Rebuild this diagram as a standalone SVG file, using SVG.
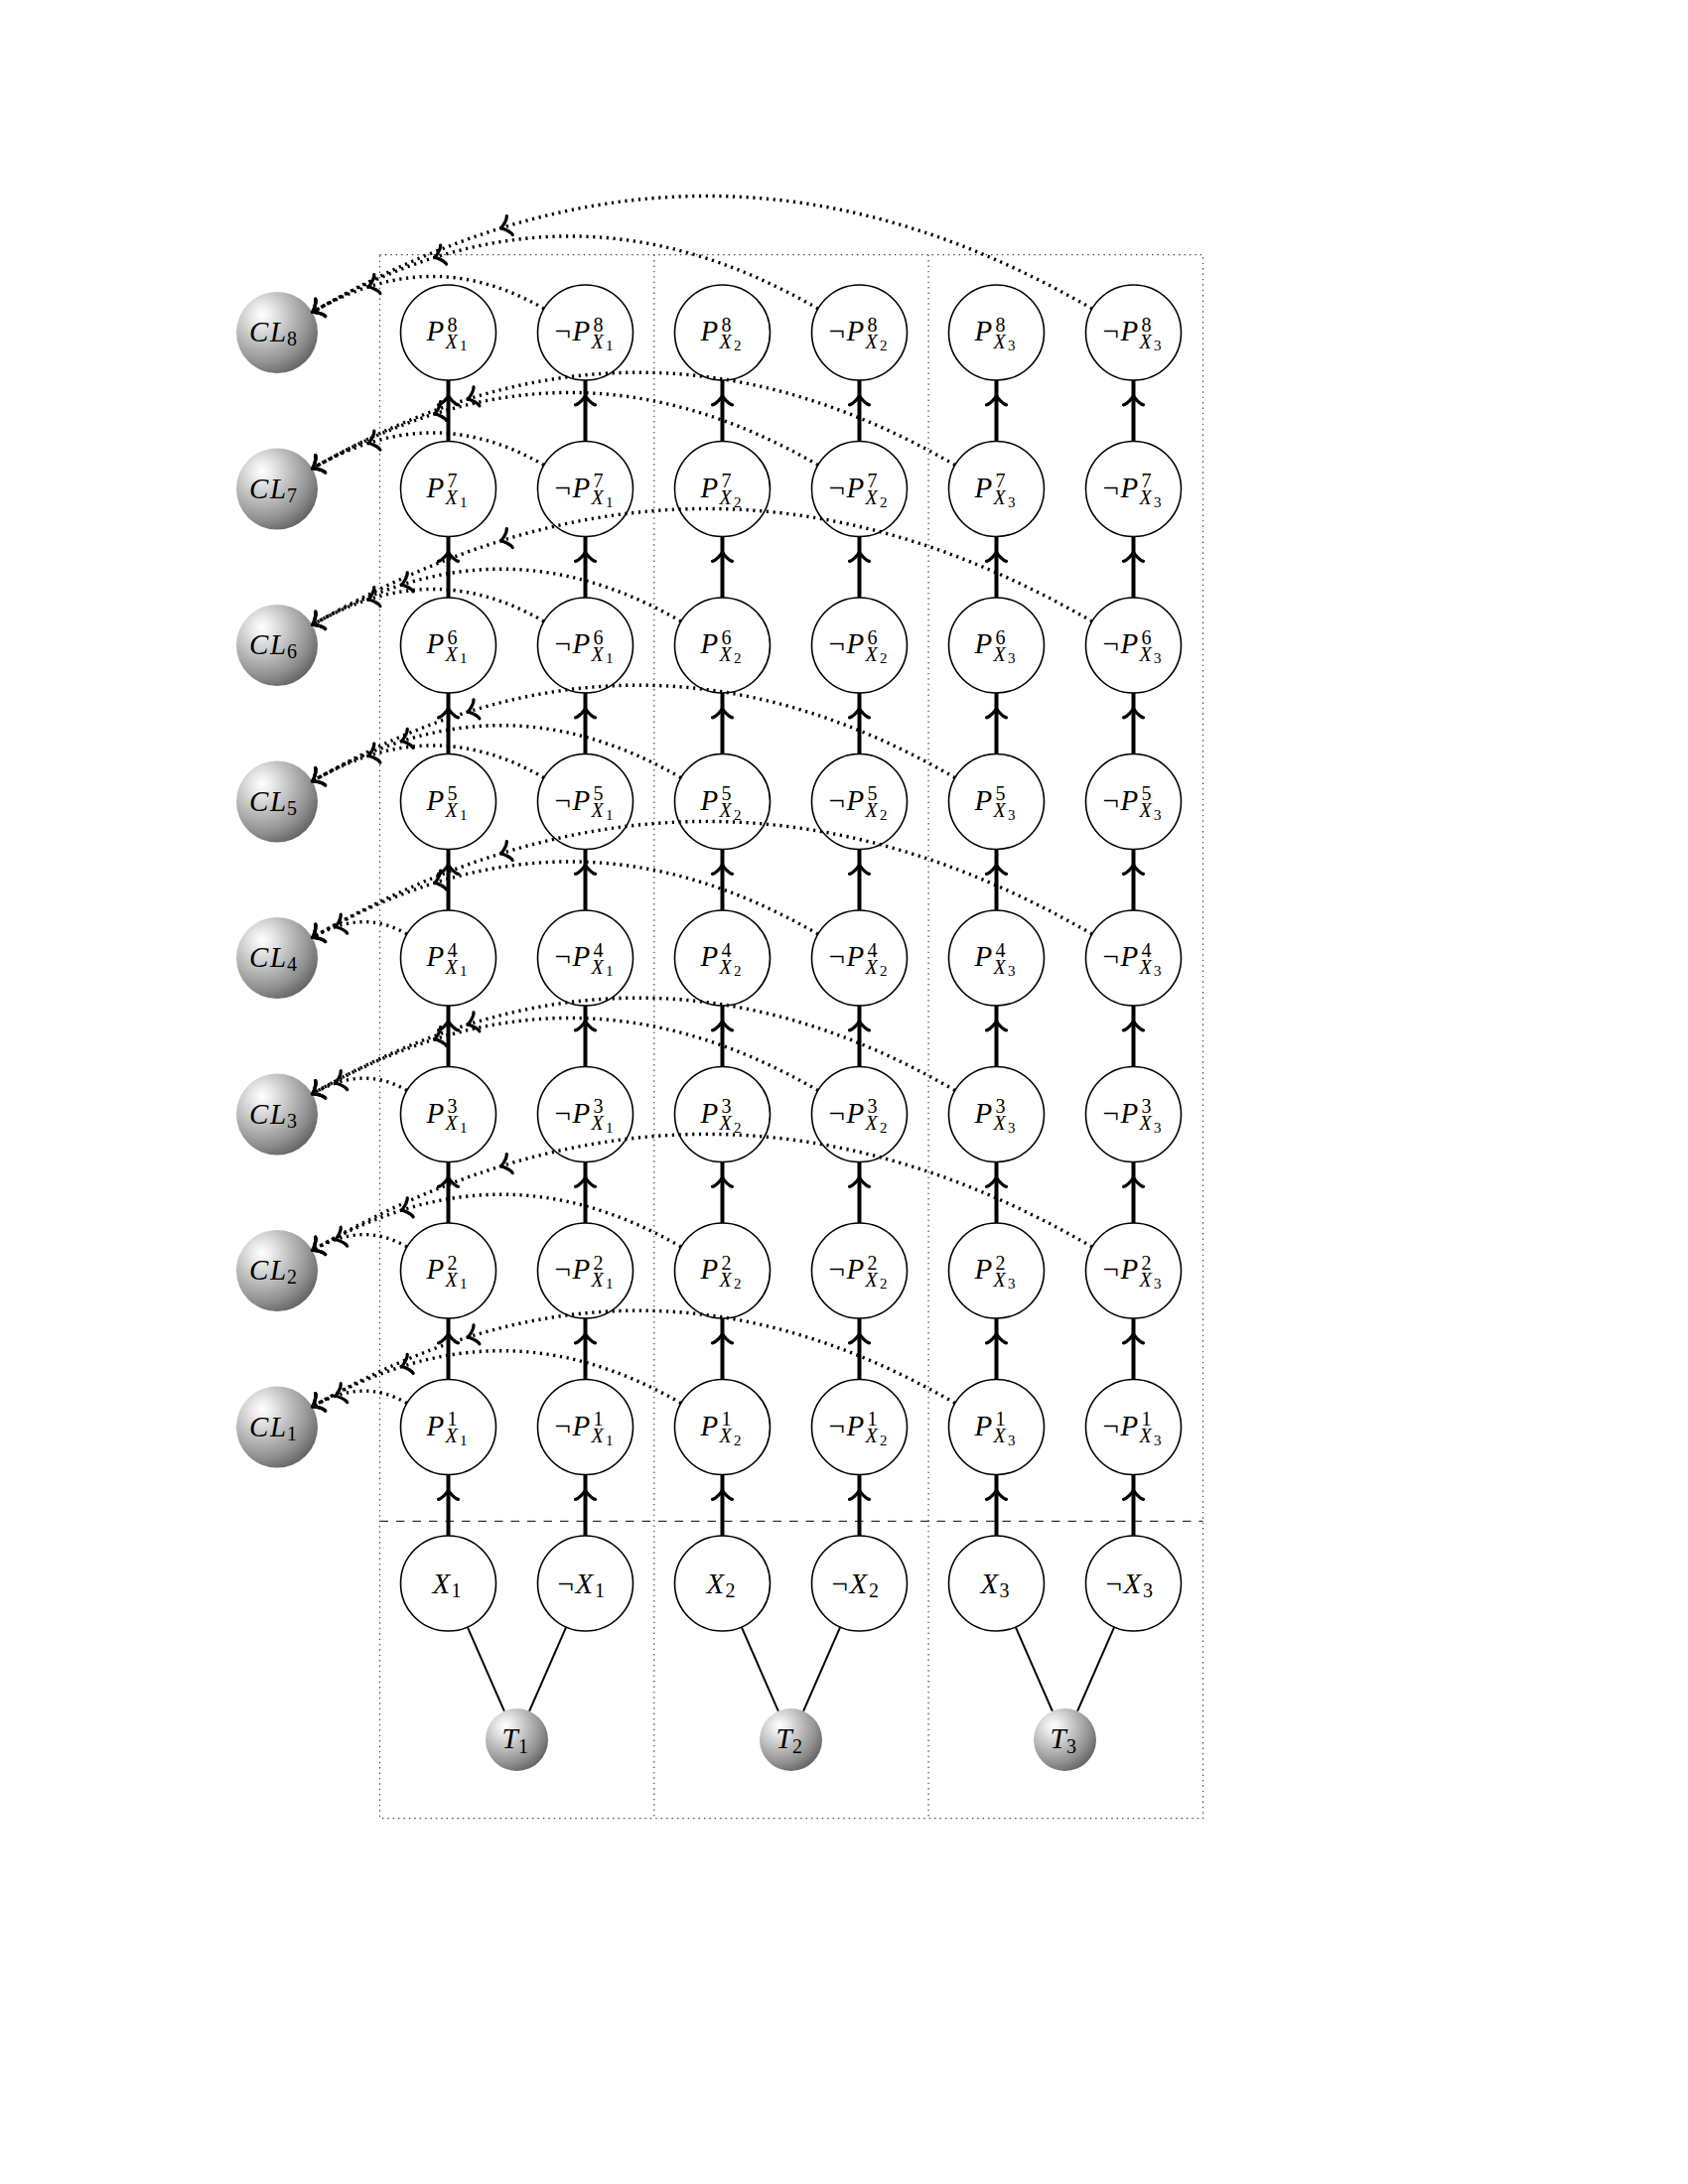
<svg xmlns="http://www.w3.org/2000/svg" width="1700" height="2200" viewBox="0 0 1700 2200">
<defs>
<style>
.n circle{fill:#fff;stroke:#000;stroke-width:1.6}
.s circle{stroke:none;fill:url(#ball)}
text{font-family:'Liberation Serif','DejaVu Serif',serif;fill:#000}
.i{font-style:italic}
.a{font-size:29px}
.b{font-size:20px}
.c{font-size:15px}
.fr{fill:none;stroke:#444;stroke-width:1.2;stroke-dasharray:1.4 4}
.dash{fill:none;stroke:#333;stroke-width:1.2;stroke-dasharray:8.5 8}
.vl{fill:none;stroke:#000;stroke-width:4;marker-mid:url(#tip)}
.tl{stroke:#000;stroke-width:2}
.cv{fill:none;stroke:#000;stroke-width:3.4;stroke-dasharray:2.2 4.6;marker-end:url(#tip)}
</style>
<radialGradient id="ball" cx="0.32" cy="0.3" r="0.78" fx="0.32" fy="0.28">
<stop offset="0" stop-color="#ffffff"/>
<stop offset="0.15" stop-color="#ececec"/>
<stop offset="0.45" stop-color="#bdbdbd"/>
<stop offset="0.75" stop-color="#909090"/>
<stop offset="1" stop-color="#606060"/>
</radialGradient>
<path id="chev" d="M-9.4,-10 C-8.8,-6.25 -1.9,-0.6 0,0 C-1.9,0.6 -8.8,6.25 -9.4,10" fill="none" stroke="#000" stroke-width="3.2" stroke-linecap="round" stroke-linejoin="round"/>
<marker id="tip" markerUnits="userSpaceOnUse" orient="auto" markerWidth="40" markerHeight="40" viewBox="-20 -20 40 40" refX="0" refY="0" overflow="visible"><use href="#chev"/></marker>
</defs>
<rect width="1700" height="2200" fill="#fff"/>

<g id="frame">
<rect class="fr" x="382.5" y="256.7" width="829" height="1575"/>
<line class="fr" x1="658.8" y1="256.7" x2="658.8" y2="1831.7"/>
<line class="fr" x1="935.1" y1="256.7" x2="935.1" y2="1831.7"/>
<line class="dash" x1="382.5" y1="1532.3" x2="1211.5" y2="1532.3"/>
</g>

<g id="nodes">
<!-- row 8 -->
<g id="p8_x1" class="n" transform="translate(451.5,335)"><circle r="48"/><text><tspan class="i a" x="-22" y="8">P</tspan><tspan class="b" x="-1" y="-1.5">8</tspan><tspan class="i b" x="-3" y="15.5">X</tspan><tspan class="c" x="11.5" y="18">1</tspan></text></g>
<g id="np8_x1" class="n" transform="translate(589.5,335)"><circle r="48"/><text><tspan class="a" x="-31" y="8">¬</tspan><tspan class="i a" x="-13" y="8">P</tspan><tspan class="b" x="8" y="-1.5">8</tspan><tspan class="i b" x="6" y="15.5">X</tspan><tspan class="c" x="20.5" y="18">1</tspan></text></g>
<g id="p8_x2" class="n" transform="translate(727.5,335)"><circle r="48"/><text><tspan class="i a" x="-22" y="8">P</tspan><tspan class="b" x="-1" y="-1.5">8</tspan><tspan class="i b" x="-3" y="15.5">X</tspan><tspan class="c" x="11.5" y="18">2</tspan></text></g>
<g id="np8_x2" class="n" transform="translate(865.5,335)"><circle r="48"/><text><tspan class="a" x="-31" y="8">¬</tspan><tspan class="i a" x="-13" y="8">P</tspan><tspan class="b" x="8" y="-1.5">8</tspan><tspan class="i b" x="6" y="15.5">X</tspan><tspan class="c" x="20.5" y="18">2</tspan></text></g>
<g id="p8_x3" class="n" transform="translate(1003.5,335)"><circle r="48"/><text><tspan class="i a" x="-22" y="8">P</tspan><tspan class="b" x="-1" y="-1.5">8</tspan><tspan class="i b" x="-3" y="15.5">X</tspan><tspan class="c" x="11.5" y="18">3</tspan></text></g>
<g id="np8_x3" class="n" transform="translate(1141.5,335)"><circle r="48"/><text><tspan class="a" x="-31" y="8">¬</tspan><tspan class="i a" x="-13" y="8">P</tspan><tspan class="b" x="8" y="-1.5">8</tspan><tspan class="i b" x="6" y="15.5">X</tspan><tspan class="c" x="20.5" y="18">3</tspan></text></g>
<!-- row 7 -->
<g id="p7_x1" class="n" transform="translate(451.5,492.5)"><circle r="48"/><text><tspan class="i a" x="-22" y="8">P</tspan><tspan class="b" x="-1" y="-1.5">7</tspan><tspan class="i b" x="-3" y="15.5">X</tspan><tspan class="c" x="11.5" y="18">1</tspan></text></g>
<g id="np7_x1" class="n" transform="translate(589.5,492.5)"><circle r="48"/><text><tspan class="a" x="-31" y="8">¬</tspan><tspan class="i a" x="-13" y="8">P</tspan><tspan class="b" x="8" y="-1.5">7</tspan><tspan class="i b" x="6" y="15.5">X</tspan><tspan class="c" x="20.5" y="18">1</tspan></text></g>
<g id="p7_x2" class="n" transform="translate(727.5,492.5)"><circle r="48"/><text><tspan class="i a" x="-22" y="8">P</tspan><tspan class="b" x="-1" y="-1.5">7</tspan><tspan class="i b" x="-3" y="15.5">X</tspan><tspan class="c" x="11.5" y="18">2</tspan></text></g>
<g id="np7_x2" class="n" transform="translate(865.5,492.5)"><circle r="48"/><text><tspan class="a" x="-31" y="8">¬</tspan><tspan class="i a" x="-13" y="8">P</tspan><tspan class="b" x="8" y="-1.5">7</tspan><tspan class="i b" x="6" y="15.5">X</tspan><tspan class="c" x="20.5" y="18">2</tspan></text></g>
<g id="p7_x3" class="n" transform="translate(1003.5,492.5)"><circle r="48"/><text><tspan class="i a" x="-22" y="8">P</tspan><tspan class="b" x="-1" y="-1.5">7</tspan><tspan class="i b" x="-3" y="15.5">X</tspan><tspan class="c" x="11.5" y="18">3</tspan></text></g>
<g id="np7_x3" class="n" transform="translate(1141.5,492.5)"><circle r="48"/><text><tspan class="a" x="-31" y="8">¬</tspan><tspan class="i a" x="-13" y="8">P</tspan><tspan class="b" x="8" y="-1.5">7</tspan><tspan class="i b" x="6" y="15.5">X</tspan><tspan class="c" x="20.5" y="18">3</tspan></text></g>
<!-- row 6 -->
<g id="p6_x1" class="n" transform="translate(451.5,650)"><circle r="48"/><text><tspan class="i a" x="-22" y="8">P</tspan><tspan class="b" x="-1" y="-1.5">6</tspan><tspan class="i b" x="-3" y="15.5">X</tspan><tspan class="c" x="11.5" y="18">1</tspan></text></g>
<g id="np6_x1" class="n" transform="translate(589.5,650)"><circle r="48"/><text><tspan class="a" x="-31" y="8">¬</tspan><tspan class="i a" x="-13" y="8">P</tspan><tspan class="b" x="8" y="-1.5">6</tspan><tspan class="i b" x="6" y="15.5">X</tspan><tspan class="c" x="20.5" y="18">1</tspan></text></g>
<g id="p6_x2" class="n" transform="translate(727.5,650)"><circle r="48"/><text><tspan class="i a" x="-22" y="8">P</tspan><tspan class="b" x="-1" y="-1.5">6</tspan><tspan class="i b" x="-3" y="15.5">X</tspan><tspan class="c" x="11.5" y="18">2</tspan></text></g>
<g id="np6_x2" class="n" transform="translate(865.5,650)"><circle r="48"/><text><tspan class="a" x="-31" y="8">¬</tspan><tspan class="i a" x="-13" y="8">P</tspan><tspan class="b" x="8" y="-1.5">6</tspan><tspan class="i b" x="6" y="15.5">X</tspan><tspan class="c" x="20.5" y="18">2</tspan></text></g>
<g id="p6_x3" class="n" transform="translate(1003.5,650)"><circle r="48"/><text><tspan class="i a" x="-22" y="8">P</tspan><tspan class="b" x="-1" y="-1.5">6</tspan><tspan class="i b" x="-3" y="15.5">X</tspan><tspan class="c" x="11.5" y="18">3</tspan></text></g>
<g id="np6_x3" class="n" transform="translate(1141.5,650)"><circle r="48"/><text><tspan class="a" x="-31" y="8">¬</tspan><tspan class="i a" x="-13" y="8">P</tspan><tspan class="b" x="8" y="-1.5">6</tspan><tspan class="i b" x="6" y="15.5">X</tspan><tspan class="c" x="20.5" y="18">3</tspan></text></g>
<!-- row 5 -->
<g id="p5_x1" class="n" transform="translate(451.5,807.5)"><circle r="48"/><text><tspan class="i a" x="-22" y="8">P</tspan><tspan class="b" x="-1" y="-1.5">5</tspan><tspan class="i b" x="-3" y="15.5">X</tspan><tspan class="c" x="11.5" y="18">1</tspan></text></g>
<g id="np5_x1" class="n" transform="translate(589.5,807.5)"><circle r="48"/><text><tspan class="a" x="-31" y="8">¬</tspan><tspan class="i a" x="-13" y="8">P</tspan><tspan class="b" x="8" y="-1.5">5</tspan><tspan class="i b" x="6" y="15.5">X</tspan><tspan class="c" x="20.5" y="18">1</tspan></text></g>
<g id="p5_x2" class="n" transform="translate(727.5,807.5)"><circle r="48"/><text><tspan class="i a" x="-22" y="8">P</tspan><tspan class="b" x="-1" y="-1.5">5</tspan><tspan class="i b" x="-3" y="15.5">X</tspan><tspan class="c" x="11.5" y="18">2</tspan></text></g>
<g id="np5_x2" class="n" transform="translate(865.5,807.5)"><circle r="48"/><text><tspan class="a" x="-31" y="8">¬</tspan><tspan class="i a" x="-13" y="8">P</tspan><tspan class="b" x="8" y="-1.5">5</tspan><tspan class="i b" x="6" y="15.5">X</tspan><tspan class="c" x="20.5" y="18">2</tspan></text></g>
<g id="p5_x3" class="n" transform="translate(1003.5,807.5)"><circle r="48"/><text><tspan class="i a" x="-22" y="8">P</tspan><tspan class="b" x="-1" y="-1.5">5</tspan><tspan class="i b" x="-3" y="15.5">X</tspan><tspan class="c" x="11.5" y="18">3</tspan></text></g>
<g id="np5_x3" class="n" transform="translate(1141.5,807.5)"><circle r="48"/><text><tspan class="a" x="-31" y="8">¬</tspan><tspan class="i a" x="-13" y="8">P</tspan><tspan class="b" x="8" y="-1.5">5</tspan><tspan class="i b" x="6" y="15.5">X</tspan><tspan class="c" x="20.5" y="18">3</tspan></text></g>
<!-- row 4 -->
<g id="p4_x1" class="n" transform="translate(451.5,965)"><circle r="48"/><text><tspan class="i a" x="-22" y="8">P</tspan><tspan class="b" x="-1" y="-1.5">4</tspan><tspan class="i b" x="-3" y="15.5">X</tspan><tspan class="c" x="11.5" y="18">1</tspan></text></g>
<g id="np4_x1" class="n" transform="translate(589.5,965)"><circle r="48"/><text><tspan class="a" x="-31" y="8">¬</tspan><tspan class="i a" x="-13" y="8">P</tspan><tspan class="b" x="8" y="-1.5">4</tspan><tspan class="i b" x="6" y="15.5">X</tspan><tspan class="c" x="20.5" y="18">1</tspan></text></g>
<g id="p4_x2" class="n" transform="translate(727.5,965)"><circle r="48"/><text><tspan class="i a" x="-22" y="8">P</tspan><tspan class="b" x="-1" y="-1.5">4</tspan><tspan class="i b" x="-3" y="15.5">X</tspan><tspan class="c" x="11.5" y="18">2</tspan></text></g>
<g id="np4_x2" class="n" transform="translate(865.5,965)"><circle r="48"/><text><tspan class="a" x="-31" y="8">¬</tspan><tspan class="i a" x="-13" y="8">P</tspan><tspan class="b" x="8" y="-1.5">4</tspan><tspan class="i b" x="6" y="15.5">X</tspan><tspan class="c" x="20.5" y="18">2</tspan></text></g>
<g id="p4_x3" class="n" transform="translate(1003.5,965)"><circle r="48"/><text><tspan class="i a" x="-22" y="8">P</tspan><tspan class="b" x="-1" y="-1.5">4</tspan><tspan class="i b" x="-3" y="15.5">X</tspan><tspan class="c" x="11.5" y="18">3</tspan></text></g>
<g id="np4_x3" class="n" transform="translate(1141.5,965)"><circle r="48"/><text><tspan class="a" x="-31" y="8">¬</tspan><tspan class="i a" x="-13" y="8">P</tspan><tspan class="b" x="8" y="-1.5">4</tspan><tspan class="i b" x="6" y="15.5">X</tspan><tspan class="c" x="20.5" y="18">3</tspan></text></g>
<!-- row 3 -->
<g id="p3_x1" class="n" transform="translate(451.5,1122.5)"><circle r="48"/><text><tspan class="i a" x="-22" y="8">P</tspan><tspan class="b" x="-1" y="-1.5">3</tspan><tspan class="i b" x="-3" y="15.5">X</tspan><tspan class="c" x="11.5" y="18">1</tspan></text></g>
<g id="np3_x1" class="n" transform="translate(589.5,1122.5)"><circle r="48"/><text><tspan class="a" x="-31" y="8">¬</tspan><tspan class="i a" x="-13" y="8">P</tspan><tspan class="b" x="8" y="-1.5">3</tspan><tspan class="i b" x="6" y="15.5">X</tspan><tspan class="c" x="20.5" y="18">1</tspan></text></g>
<g id="p3_x2" class="n" transform="translate(727.5,1122.5)"><circle r="48"/><text><tspan class="i a" x="-22" y="8">P</tspan><tspan class="b" x="-1" y="-1.5">3</tspan><tspan class="i b" x="-3" y="15.5">X</tspan><tspan class="c" x="11.5" y="18">2</tspan></text></g>
<g id="np3_x2" class="n" transform="translate(865.5,1122.5)"><circle r="48"/><text><tspan class="a" x="-31" y="8">¬</tspan><tspan class="i a" x="-13" y="8">P</tspan><tspan class="b" x="8" y="-1.5">3</tspan><tspan class="i b" x="6" y="15.5">X</tspan><tspan class="c" x="20.5" y="18">2</tspan></text></g>
<g id="p3_x3" class="n" transform="translate(1003.5,1122.5)"><circle r="48"/><text><tspan class="i a" x="-22" y="8">P</tspan><tspan class="b" x="-1" y="-1.5">3</tspan><tspan class="i b" x="-3" y="15.5">X</tspan><tspan class="c" x="11.5" y="18">3</tspan></text></g>
<g id="np3_x3" class="n" transform="translate(1141.5,1122.5)"><circle r="48"/><text><tspan class="a" x="-31" y="8">¬</tspan><tspan class="i a" x="-13" y="8">P</tspan><tspan class="b" x="8" y="-1.5">3</tspan><tspan class="i b" x="6" y="15.5">X</tspan><tspan class="c" x="20.5" y="18">3</tspan></text></g>
<!-- row 2 -->
<g id="p2_x1" class="n" transform="translate(451.5,1280)"><circle r="48"/><text><tspan class="i a" x="-22" y="8">P</tspan><tspan class="b" x="-1" y="-1.5">2</tspan><tspan class="i b" x="-3" y="15.5">X</tspan><tspan class="c" x="11.5" y="18">1</tspan></text></g>
<g id="np2_x1" class="n" transform="translate(589.5,1280)"><circle r="48"/><text><tspan class="a" x="-31" y="8">¬</tspan><tspan class="i a" x="-13" y="8">P</tspan><tspan class="b" x="8" y="-1.5">2</tspan><tspan class="i b" x="6" y="15.5">X</tspan><tspan class="c" x="20.5" y="18">1</tspan></text></g>
<g id="p2_x2" class="n" transform="translate(727.5,1280)"><circle r="48"/><text><tspan class="i a" x="-22" y="8">P</tspan><tspan class="b" x="-1" y="-1.5">2</tspan><tspan class="i b" x="-3" y="15.5">X</tspan><tspan class="c" x="11.5" y="18">2</tspan></text></g>
<g id="np2_x2" class="n" transform="translate(865.5,1280)"><circle r="48"/><text><tspan class="a" x="-31" y="8">¬</tspan><tspan class="i a" x="-13" y="8">P</tspan><tspan class="b" x="8" y="-1.5">2</tspan><tspan class="i b" x="6" y="15.5">X</tspan><tspan class="c" x="20.5" y="18">2</tspan></text></g>
<g id="p2_x3" class="n" transform="translate(1003.5,1280)"><circle r="48"/><text><tspan class="i a" x="-22" y="8">P</tspan><tspan class="b" x="-1" y="-1.5">2</tspan><tspan class="i b" x="-3" y="15.5">X</tspan><tspan class="c" x="11.5" y="18">3</tspan></text></g>
<g id="np2_x3" class="n" transform="translate(1141.5,1280)"><circle r="48"/><text><tspan class="a" x="-31" y="8">¬</tspan><tspan class="i a" x="-13" y="8">P</tspan><tspan class="b" x="8" y="-1.5">2</tspan><tspan class="i b" x="6" y="15.5">X</tspan><tspan class="c" x="20.5" y="18">3</tspan></text></g>
<!-- row 1 -->
<g id="p1_x1" class="n" transform="translate(451.5,1437.5)"><circle r="48"/><text><tspan class="i a" x="-22" y="8">P</tspan><tspan class="b" x="-1" y="-1.5">1</tspan><tspan class="i b" x="-3" y="15.5">X</tspan><tspan class="c" x="11.5" y="18">1</tspan></text></g>
<g id="np1_x1" class="n" transform="translate(589.5,1437.5)"><circle r="48"/><text><tspan class="a" x="-31" y="8">¬</tspan><tspan class="i a" x="-13" y="8">P</tspan><tspan class="b" x="8" y="-1.5">1</tspan><tspan class="i b" x="6" y="15.5">X</tspan><tspan class="c" x="20.5" y="18">1</tspan></text></g>
<g id="p1_x2" class="n" transform="translate(727.5,1437.5)"><circle r="48"/><text><tspan class="i a" x="-22" y="8">P</tspan><tspan class="b" x="-1" y="-1.5">1</tspan><tspan class="i b" x="-3" y="15.5">X</tspan><tspan class="c" x="11.5" y="18">2</tspan></text></g>
<g id="np1_x2" class="n" transform="translate(865.5,1437.5)"><circle r="48"/><text><tspan class="a" x="-31" y="8">¬</tspan><tspan class="i a" x="-13" y="8">P</tspan><tspan class="b" x="8" y="-1.5">1</tspan><tspan class="i b" x="6" y="15.5">X</tspan><tspan class="c" x="20.5" y="18">2</tspan></text></g>
<g id="p1_x3" class="n" transform="translate(1003.5,1437.5)"><circle r="48"/><text><tspan class="i a" x="-22" y="8">P</tspan><tspan class="b" x="-1" y="-1.5">1</tspan><tspan class="i b" x="-3" y="15.5">X</tspan><tspan class="c" x="11.5" y="18">3</tspan></text></g>
<g id="np1_x3" class="n" transform="translate(1141.5,1437.5)"><circle r="48"/><text><tspan class="a" x="-31" y="8">¬</tspan><tspan class="i a" x="-13" y="8">P</tspan><tspan class="b" x="8" y="-1.5">1</tspan><tspan class="i b" x="6" y="15.5">X</tspan><tspan class="c" x="20.5" y="18">3</tspan></text></g>
<!-- variable row -->
<g id="x1" class="n" transform="translate(451.5,1595)"><circle r="48"/><text><tspan class="i a" x="-16" y="10">X</tspan><tspan class="b" x="3" y="14">1</tspan></text></g>
<g id="nx1" class="n" transform="translate(589.5,1595)"><circle r="48"/><text><tspan class="a" x="-28" y="10">¬</tspan><tspan class="i a" x="-10" y="10">X</tspan><tspan class="b" x="9.5" y="14">1</tspan></text></g>
<g id="x2" class="n" transform="translate(727.5,1595)"><circle r="48"/><text><tspan class="i a" x="-16" y="10">X</tspan><tspan class="b" x="3" y="14">2</tspan></text></g>
<g id="nx2" class="n" transform="translate(865.5,1595)"><circle r="48"/><text><tspan class="a" x="-28" y="10">¬</tspan><tspan class="i a" x="-10" y="10">X</tspan><tspan class="b" x="9.5" y="14">2</tspan></text></g>
<g id="x3" class="n" transform="translate(1003.5,1595)"><circle r="48"/><text><tspan class="i a" x="-16" y="10">X</tspan><tspan class="b" x="3" y="14">3</tspan></text></g>
<g id="nx3" class="n" transform="translate(1141.5,1595)"><circle r="48"/><text><tspan class="a" x="-28" y="10">¬</tspan><tspan class="i a" x="-10" y="10">X</tspan><tspan class="b" x="9.5" y="14">3</tspan></text></g>
<!-- T spheres -->
<g id="t1" class="s" transform="translate(520.5,1752.5)"><circle r="31.5"/><text><tspan class="i a" x="-15" y="8.5">T</tspan><tspan class="b" x="1.5" y="13">1</tspan></text></g>
<g id="t2" class="s" transform="translate(796.5,1752.5)"><circle r="31.5"/><text><tspan class="i a" x="-15" y="8.5">T</tspan><tspan class="b" x="1.5" y="13">2</tspan></text></g>
<g id="t3" class="s" transform="translate(1072.5,1752.5)"><circle r="31.5"/><text><tspan class="i a" x="-15" y="8.5">T</tspan><tspan class="b" x="1.5" y="13">3</tspan></text></g>
<!-- clause spheres -->
<g id="cl8" class="s" transform="translate(279,335)"><circle r="41"/><text><tspan class="i a" x="-28" y="9">C</tspan><tspan class="i a" x="-7" y="9">L</tspan><tspan class="b" x="10" y="13">8</tspan></text></g>
<g id="cl7" class="s" transform="translate(279,492.5)"><circle r="41"/><text><tspan class="i a" x="-28" y="9">C</tspan><tspan class="i a" x="-7" y="9">L</tspan><tspan class="b" x="10" y="13">7</tspan></text></g>
<g id="cl6" class="s" transform="translate(279,650)"><circle r="41"/><text><tspan class="i a" x="-28" y="9">C</tspan><tspan class="i a" x="-7" y="9">L</tspan><tspan class="b" x="10" y="13">6</tspan></text></g>
<g id="cl5" class="s" transform="translate(279,807.5)"><circle r="41"/><text><tspan class="i a" x="-28" y="9">C</tspan><tspan class="i a" x="-7" y="9">L</tspan><tspan class="b" x="10" y="13">5</tspan></text></g>
<g id="cl4" class="s" transform="translate(279,965)"><circle r="41"/><text><tspan class="i a" x="-28" y="9">C</tspan><tspan class="i a" x="-7" y="9">L</tspan><tspan class="b" x="10" y="13">4</tspan></text></g>
<g id="cl3" class="s" transform="translate(279,1122.5)"><circle r="41"/><text><tspan class="i a" x="-28" y="9">C</tspan><tspan class="i a" x="-7" y="9">L</tspan><tspan class="b" x="10" y="13">3</tspan></text></g>
<g id="cl2" class="s" transform="translate(279,1280)"><circle r="41"/><text><tspan class="i a" x="-28" y="9">C</tspan><tspan class="i a" x="-7" y="9">L</tspan><tspan class="b" x="10" y="13">2</tspan></text></g>
<g id="cl1" class="s" transform="translate(279,1437.5)"><circle r="41"/><text><tspan class="i a" x="-28" y="9">C</tspan><tspan class="i a" x="-7" y="9">L</tspan><tspan class="b" x="10" y="13">1</tspan></text></g>
</g>

<g id="connectors">
<g id="vertical-arrows">
<path class="vl" d="M451.5 1547V1500.9V1485.5"/><path class="vl" d="M589.5 1547V1500.9V1485.5"/><path class="vl" d="M727.5 1547V1500.9V1485.5"/><path class="vl" d="M865.5 1547V1500.9V1485.5"/><path class="vl" d="M1003.5 1547V1500.9V1485.5"/><path class="vl" d="M1141.5 1547V1500.9V1485.5"/>
<path class="vl" d="M451.5 1389.5V1343.4V1328"/><path class="vl" d="M589.5 1389.5V1343.4V1328"/><path class="vl" d="M727.5 1389.5V1343.4V1328"/><path class="vl" d="M865.5 1389.5V1343.4V1328"/><path class="vl" d="M1003.5 1389.5V1343.4V1328"/><path class="vl" d="M1141.5 1389.5V1343.4V1328"/>
<path class="vl" d="M451.5 1232V1185.9V1170.5"/><path class="vl" d="M589.5 1232V1185.9V1170.5"/><path class="vl" d="M727.5 1232V1185.9V1170.5"/><path class="vl" d="M865.5 1232V1185.9V1170.5"/><path class="vl" d="M1003.5 1232V1185.9V1170.5"/><path class="vl" d="M1141.5 1232V1185.9V1170.5"/>
<path class="vl" d="M451.5 1074.5V1028.4V1013"/><path class="vl" d="M589.5 1074.5V1028.4V1013"/><path class="vl" d="M727.5 1074.5V1028.4V1013"/><path class="vl" d="M865.5 1074.5V1028.4V1013"/><path class="vl" d="M1003.5 1074.5V1028.4V1013"/><path class="vl" d="M1141.5 1074.5V1028.4V1013"/>
<path class="vl" d="M451.5 917V870.9V855.5"/><path class="vl" d="M589.5 917V870.9V855.5"/><path class="vl" d="M727.5 917V870.9V855.5"/><path class="vl" d="M865.5 917V870.9V855.5"/><path class="vl" d="M1003.5 917V870.9V855.5"/><path class="vl" d="M1141.5 917V870.9V855.5"/>
<path class="vl" d="M451.5 759.5V713.4V698"/><path class="vl" d="M589.5 759.5V713.4V698"/><path class="vl" d="M727.5 759.5V713.4V698"/><path class="vl" d="M865.5 759.5V713.4V698"/><path class="vl" d="M1003.5 759.5V713.4V698"/><path class="vl" d="M1141.5 759.5V713.4V698"/>
<path class="vl" d="M451.5 602V555.9V540.5"/><path class="vl" d="M589.5 602V555.9V540.5"/><path class="vl" d="M727.5 602V555.9V540.5"/><path class="vl" d="M865.5 602V555.9V540.5"/><path class="vl" d="M1003.5 602V555.9V540.5"/><path class="vl" d="M1141.5 602V555.9V540.5"/>
<path class="vl" d="M451.5 444.5V398.4V383"/><path class="vl" d="M589.5 444.5V398.4V383"/><path class="vl" d="M727.5 444.5V398.4V383"/><path class="vl" d="M865.5 444.5V398.4V383"/><path class="vl" d="M1003.5 444.5V398.4V383"/><path class="vl" d="M1141.5 444.5V398.4V383"/>
</g>
<g id="t-links">
<line class="tl" x1="470.76" y1="1638.97" x2="507.86" y2="1723.65"/><line class="tl" x1="570.24" y1="1638.97" x2="533.14" y2="1723.65"/>
<line class="tl" x1="746.76" y1="1638.97" x2="783.86" y2="1723.65"/><line class="tl" x1="846.24" y1="1638.97" x2="809.14" y2="1723.65"/>
<line class="tl" x1="1022.76" y1="1638.97" x2="1059.86" y2="1723.65"/><line class="tl" x1="1122.24" y1="1638.97" x2="1085.14" y2="1723.65"/>
</g>
<g id="clause-links">
<!-- CL8 -->
<path class="cv" d="M547.93 311C468.79 265.3 393.64 268.8 314.5 314.5"/><use href="#chev" transform="translate(370.9,288.99) rotate(162.1)"/>
<path class="cv" d="M823.93 311C651.21 211.28 487.22 214.78 314.5 314.5"/><use href="#chev" transform="translate(437.6,259.42) rotate(162.6)"/>
<path class="cv" d="M1099.93 311C833.63 157.25 580.8 160.75 314.5 314.5"/><use href="#chev" transform="translate(504.28,229.86) rotate(162.7)"/>
<!-- CL7 -->
<path class="cv" d="M547.93 468.5C468.79 422.8 393.64 426.3 314.5 472"/><use href="#chev" transform="translate(370.9,446.49) rotate(162.1)"/>
<path class="cv" d="M823.93 468.5C651.21 368.78 487.22 372.28 314.5 472"/><use href="#chev" transform="translate(437.6,416.92) rotate(162.6)"/>
<path class="cv" d="M961.93 468.5C742.43 341.76 534 345.26 314.5 472"/><use href="#chev" transform="translate(470.94,402.14) rotate(162.7)"/>
<!-- CL6 -->
<path class="cv" d="M547.93 626C468.79 580.3 393.64 583.8 314.5 629.5"/><use href="#chev" transform="translate(370.9,603.99) rotate(162.1)"/>
<path class="cv" d="M685.93 626C560 553.29 440.43 556.79 314.5 629.5"/><use href="#chev" transform="translate(404.24,589.2) rotate(162.5)"/>
<path class="cv" d="M1099.93 626C833.63 472.25 580.8 475.75 314.5 629.5"/><use href="#chev" transform="translate(504.28,544.86) rotate(162.7)"/>
<!-- CL5 -->
<path class="cv" d="M547.93 783.5C468.79 737.8 393.64 741.3 314.5 787"/><use href="#chev" transform="translate(370.9,761.49) rotate(162.1)"/>
<path class="cv" d="M685.93 783.5C560 710.79 440.43 714.29 314.5 787"/><use href="#chev" transform="translate(404.24,746.7) rotate(162.5)"/>
<path class="cv" d="M961.93 783.5C742.43 656.76 534 660.26 314.5 787"/><use href="#chev" transform="translate(470.94,717.14) rotate(162.7)"/>
<!-- CL4 -->
<path class="cv" d="M409.93 941C377.55 922.3 346.88 925.8 314.5 944.5"/><use href="#chev" transform="translate(337.56,933.76) rotate(160.9)"/>
<path class="cv" d="M823.93 941C651.21 841.28 487.22 844.78 314.5 944.5"/><use href="#chev" transform="translate(437.6,889.42) rotate(162.6)"/>
<path class="cv" d="M1099.93 941C833.63 787.25 580.8 790.75 314.5 944.5"/><use href="#chev" transform="translate(504.28,859.86) rotate(162.7)"/>
<!-- CL3 -->
<path class="cv" d="M409.93 1098.5C377.55 1079.8 346.88 1083.3 314.5 1102"/><use href="#chev" transform="translate(337.56,1091.26) rotate(160.9)"/>
<path class="cv" d="M823.93 1098.5C651.21 998.78 487.22 1002.28 314.5 1102"/><use href="#chev" transform="translate(437.6,1046.92) rotate(162.6)"/>
<path class="cv" d="M961.93 1098.5C742.43 971.76 534 975.26 314.5 1102"/><use href="#chev" transform="translate(470.94,1032.14) rotate(162.7)"/>
<!-- CL2 -->
<path class="cv" d="M409.93 1256C377.55 1237.3 346.88 1240.8 314.5 1259.5"/><use href="#chev" transform="translate(337.56,1248.76) rotate(160.9)"/>
<path class="cv" d="M685.93 1256C560 1183.29 440.43 1186.79 314.5 1259.5"/><use href="#chev" transform="translate(404.24,1219.2) rotate(162.5)"/>
<path class="cv" d="M1099.93 1256C833.63 1102.25 580.8 1105.75 314.5 1259.5"/><use href="#chev" transform="translate(504.28,1174.86) rotate(162.7)"/>
<!-- CL1 -->
<path class="cv" d="M409.93 1413.5C377.55 1394.8 346.88 1398.3 314.5 1417"/><use href="#chev" transform="translate(337.56,1406.26) rotate(160.9)"/>
<path class="cv" d="M685.93 1413.5C560 1340.79 440.43 1344.29 314.5 1417"/><use href="#chev" transform="translate(404.24,1376.7) rotate(162.5)"/>
<path class="cv" d="M961.93 1413.5C742.43 1286.76 534 1290.26 314.5 1417"/><use href="#chev" transform="translate(470.94,1347.14) rotate(162.7)"/>
</g>
</g>
</svg>
